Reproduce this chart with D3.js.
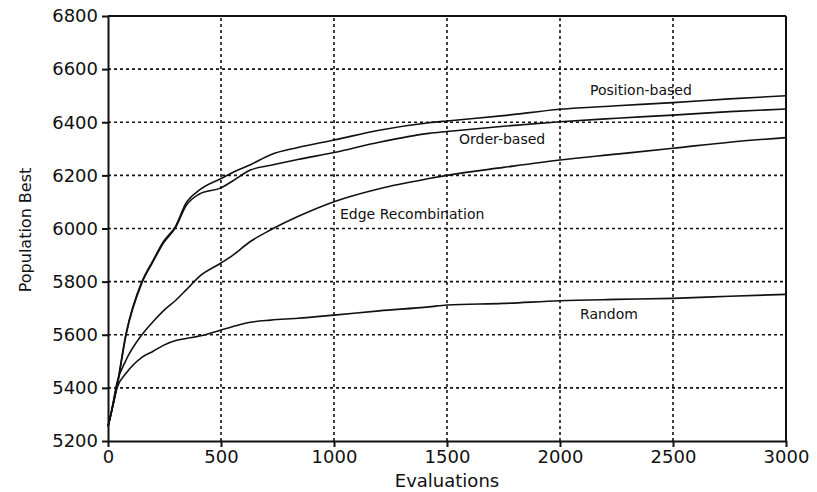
<!DOCTYPE html>
<html>
<head>
<meta charset="utf-8">
<script src="https://cdn.jsdelivr.net/npm/d3@7"></script>
<style>
  body { margin: 0; background: #fff; }
  text { font-family: "DejaVu Sans", Arial, sans-serif; fill: #111; }
</style>
</head>
<body>
<div id="chart"></div>
<script>
var evals = [0, 10, 40, 80, 150, 200, 245, 300, 345, 405, 500, 550, 630, 720, 840, 1000, 1200, 1420, 1500, 1750, 2000, 2250, 2500, 2750, 3000];

var positionBased = [5255, 5290, 5410, 5605, 5800, 5881, 5950, 6010, 6095, 6145, 6188, 6210, 6240, 6278, 6305, 6333, 6370, 6398, 6405, 6425, 6449, 6462, 6474, 6488, 6500];
var orderBased    = [5255, 5290, 5405, 5600, 5795, 5876, 5945, 6005, 6085, 6130, 6153, 6178, 6220, 6238, 6260, 6286, 6325, 6358, 6365, 6385, 6402, 6415, 6427, 6440, 6450];
var edgeRecomb    = [5255, 5290, 5420, 5505, 5600, 5650, 5690, 5730, 5768, 5820, 5870, 5898, 5951, 5995, 6045, 6101, 6150, 6188, 6200, 6230, 6258, 6280, 6302, 6325, 6342];
var randomSearch  = [5255, 5290, 5400, 5455, 5515, 5538, 5560, 5578, 5586, 5595, 5618, 5630, 5647, 5655, 5662, 5674, 5690, 5705, 5712, 5718, 5728, 5733, 5737, 5745, 5752];

var xTicks = [0, 500, 1000, 1500, 2000, 2500, 3000];
var yTicks = [5200, 5400, 5600, 5800, 6000, 6200, 6400, 6600, 6800];

var series = [
  {name: "Position-based", values: positionBased, lx: 590, ly: 95},
  {name: "Order-based", values: orderBased, lx: 459, ly: 144},
  {name: "Edge Recombination", values: edgeRecomb, lx: 340, ly: 219},
  {name: "Random", values: randomSearch, lx: 580, ly: 319}
];

var width = 817, height = 492;
var margin = {left: 108, right: 31, top: 16, bottom: 51};

var svg = d3.select("#chart").append("svg")
    .attr("width", width)
    .attr("height", height);

var x = d3.scaleLinear().domain([0, 3000]).range([margin.left, width - margin.right]);
var y = d3.scaleLinear().domain([5200, 6800]).range([height - margin.bottom, margin.top]);

// dotted grid
svg.append("g").selectAll("line")
    .data(yTicks.slice(1, -1))
    .enter().append("line")
    .attr("x1", x(0)).attr("x2", x(3000))
    .attr("y1", d => y(d)).attr("y2", d => y(d))
    .attr("stroke", "#111").attr("stroke-width", 1.6)
    .attr("stroke-dasharray", "3,3");

svg.append("g").selectAll("line")
    .data(xTicks.slice(1, -1))
    .enter().append("line")
    .attr("y1", y(5200)).attr("y2", y(6800))
    .attr("x1", d => x(d)).attr("x2", d => x(d))
    .attr("stroke", "#111").attr("stroke-width", 1.6)
    .attr("stroke-dasharray", "3,3");

// frame top & right
svg.append("line")
    .attr("x1", x(0)).attr("x2", x(3000)).attr("y1", y(6800)).attr("y2", y(6800))
    .attr("stroke", "#111").attr("stroke-width", 2);
svg.append("line")
    .attr("x1", x(3000)).attr("x2", x(3000)).attr("y1", y(6800)).attr("y2", y(5200))
    .attr("stroke", "#111").attr("stroke-width", 2);

var xAxis = svg.append("g")
    .attr("transform", "translate(0," + y(5200) + ")")
    .call(d3.axisBottom(x).tickValues(xTicks).tickFormat(d3.format("d"))
      .tickSize(6).tickSizeOuter(0).tickPadding(3));

var yAxis = svg.append("g")
    .attr("transform", "translate(" + x(0) + ",0)")
    .call(d3.axisLeft(y).tickValues(yTicks).tickFormat(d3.format("d"))
      .tickSize(6).tickSizeOuter(0).tickPadding(4));

[xAxis, yAxis].forEach(function(a) {
  a.select(".domain").attr("stroke", "#111").attr("stroke-width", 2);
  a.selectAll(".tick line").attr("stroke", "#111").attr("stroke-width", 2);
  a.selectAll(".tick text")
    .style("font-family", "'DejaVu Sans', Arial, sans-serif")
    .style("font-size", "18px").attr("fill", "#111");
});

var line = d3.line()
    .curve(d3.curveMonotoneX)
    .x((d, i) => x(evals[i]))
    .y(d => y(d));

svg.append("g").selectAll("path")
    .data(series)
    .enter().append("path")
    .attr("d", d => line(d.values))
    .attr("fill", "none")
    .attr("stroke", "#111")
    .attr("stroke-width", 1.6);

svg.append("g").selectAll("text")
    .data(series)
    .enter().append("text")
    .attr("x", d => d.lx)
    .attr("y", d => d.ly)
    .style("font-size", "14px")
    .text(d => d.name);

svg.append("text")
    .attr("x", x(1500))
    .attr("y", 487)
    .attr("text-anchor", "middle")
    .style("font-size", "18px")
    .text("Evaluations");

svg.append("text")
    .attr("transform", "translate(31,230) rotate(-90)")
    .attr("text-anchor", "middle")
    .style("font-size", "16px")
    .text("Population Best");
</script>
</body>
</html>
